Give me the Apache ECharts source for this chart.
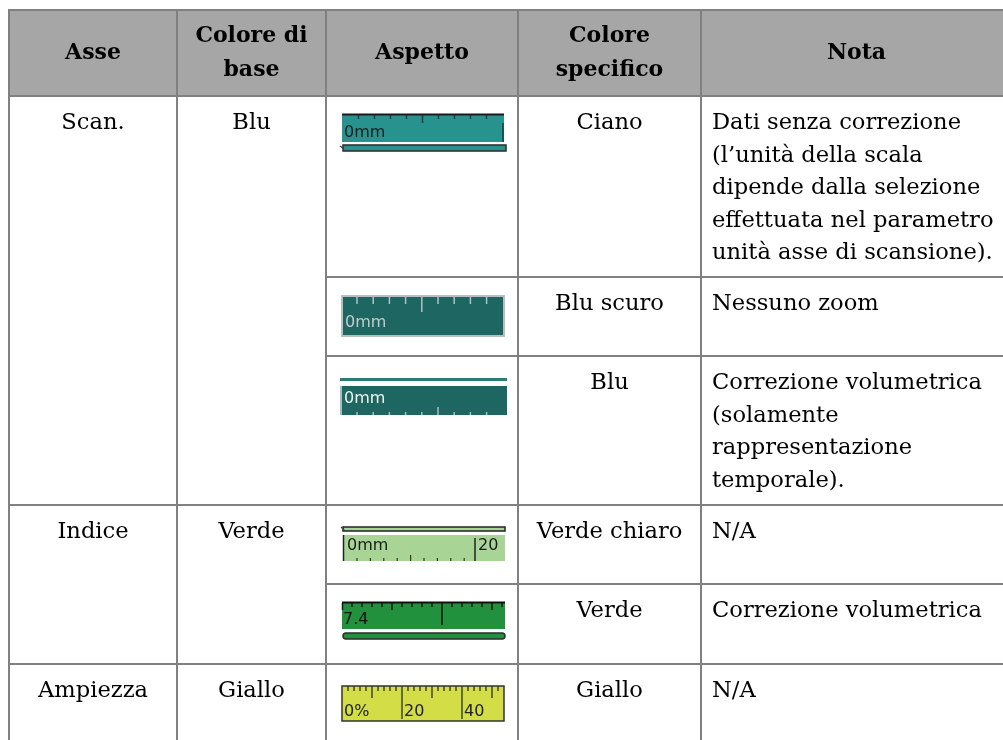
<!DOCTYPE html>
<html><head><meta charset="utf-8">
<script src="https://cdn.jsdelivr.net/npm/echarts@6/dist/echarts.min.js"></script>
<style>html,body{margin:0;padding:0;background:#fff}#c{width:1003px;height:740px}</style>
</head><body><div id="c"></div>
<script>
// ---- table content ----
const headers = ['Asse', 'Colore di\nbase', 'Aspetto', 'Colore\nspecifico', 'Nota'];
const axisNames = ['Scan.', 'Indice', 'Ampiezza'];
const baseColors = ['Blu', 'Verde', 'Giallo'];
const axisRowSpans = [3, 2, 1];
const specificColors = ['Ciano', 'Blu scuro', 'Blu', 'Verde chiaro', 'Verde', 'Giallo'];
const notes = [
  'Dati senza correzione\n(l\u2019unit\u00e0 della scala\ndipende dalla selezione\neffettuata nel parametro\nunit\u00e0 asse di scansione).',
  'Nessuno zoom',
  'Correzione volumetrica\n(solamente\nrappresentazione\ntemporale).',
  'N/A',
  'Correzione volumetrica',
  'N/A'
];
const rulerLabels = [['0mm'], ['0mm'], ['0mm'], ['0mm', '20'], ['7.4'], ['0%', '20', '40']];

// ---- layout (pixel grid edges) ----
const colEdges = [9, 177, 326, 518, 701, 1012];
const rowEdges = [10, 96, 277, 356, 505, 584, 664, 790];

const cells = [];
headers.forEach((h, i) => cells.push({c0: i, c1: i + 1, r0: 0, r1: 1, kind: 'head', text: h}));
let r = 1;
axisNames.forEach((a, i) => {
  cells.push({c0: 0, c1: 1, r0: r, r1: r + axisRowSpans[i], kind: 'center', text: a});
  cells.push({c0: 1, c1: 2, r0: r, r1: r + axisRowSpans[i], kind: 'center', text: baseColors[i]});
  r += axisRowSpans[i];
});
specificColors.forEach((s, i) => {
  cells.push({c0: 2, c1: 3, r0: i + 1, r1: i + 2, kind: 'ruler', idx: i});
  cells.push({c0: 3, c1: 4, r0: i + 1, r1: i + 2, kind: 'center', text: s});
  cells.push({c0: 4, c1: 5, r0: i + 1, r1: i + 2, kind: 'left', text: notes[i]});
});

const SERIF = '"DejaVu Serif", "Liberation Serif", serif';
const MONO = '"DejaVu Sans", sans-serif';

function line(x1, y1, x2, y2, stroke, w) {
  return {type: 'line', shape: {x1, y1, x2, y2}, style: {stroke, lineWidth: w || 1}};
}
function rect(x, y, width, height, fill, stroke, w, rr) {
  return {type: 'rect', shape: {x, y, width, height, r: rr || 0}, style: {fill, stroke: stroke || null, lineWidth: w || 0}};
}
function txt(t, x, y, fill) {
  return {type: 'text', style: {text: t, x, y, fill, font: '16px ' + MONO, align: 'left', verticalAlign: 'middle'}};
}

function ruler(i, X, Y) {
  const L = X + 16, W = 162;
  const labs = rulerLabels[i];
  const ch = [];
  if (i === 0) {
    const fill = '#28938e', dk = '#1c3a38';
    ch.push(rect(L, Y + 18, W, 28, fill));
    ch.push(line(L, Y + 18.5, L + W, Y + 18.5, '#1a1a1a', 2));
    for (let k = 1; k <= 9; k++) {
      const x = L + 16 * k + 0.5;
      ch.push(line(x, Y + 19, x, Y + 19 + (k === 5 ? 8 : 4), dk, 1.5));
    }
    ch.push(line(L + W - 1, Y + 27, L + W - 1, Y + 46, dk, 1.5));
    ch.push(txt(labs[0], L + 2, Y + 37, '#14201f'));
    ch.push(rect(L + 1, Y + 49, W + 1, 6, fill, '#2a2a2a', 1.5));
    ch.push(line(L - 2, Y + 50, L + 2, Y + 53, '#444', 1.5));
  } else if (i === 1) {
    const fill = '#1e6662', lt = '#b6bfbf';
    ch.push(rect(L, Y + 19, W, 40, fill, lt, 2));
    for (let k = 0; k <= 8; k++) {
      const x = L + 15 + 16.2 * k;
      ch.push(line(x, Y + 20, x, Y + 20 + (k === 4 ? 15 : 7), lt, 1.5));
    }
    ch.push(txt(labs[0], L + 3, Y + 46, '#c3cccc'));
  } else if (i === 2) {
    const fill = '#1e6662', lt = '#a9bfbd';
    ch.push(rect(L - 2, Y + 22, W + 5, 3, '#2b7c75'));
    ch.push(rect(L - 2, Y + 30, W + 5, 29, fill));
    ch.push(line(L - 1, Y + 30, L - 1, Y + 59, '#cfe0de', 1.5));
    for (let k = 0; k <= 8; k++) {
      const x = L + 15 + 16.2 * k;
      ch.push(line(x, Y + 59, x, Y + 59 - (k === 5 ? 8 : 3), lt, 1.5));
    }
    ch.push(txt(labs[0], L + 2, Y + 43, '#eef5f5'));
  } else if (i === 3) {
    const fill = '#a8d596', dk = '#333';
    ch.push(rect(L + 1, Y + 22, W, 4, fill, '#222', 1.5));
    ch.push(line(L - 1, Y + 22, L + 3, Y + 26, '#444', 1.2));
    ch.push(rect(L + 1, Y + 30, W, 26, fill));
    ch.push(line(L + 1.5, Y + 30, L + 1.5, Y + 56, '#222', 1.5));
    for (let k = 0; k <= 8; k++) {
      const x = L + 15 + 13.4 * k;
      ch.push(line(x, Y + 56, x, Y + 56 - (k === 4 ? 6 : 3), dk, 1.2));
    }
    const xm = L + 133;
    ch.push(line(xm, Y + 33, xm, Y + 56, '#222', 1.5));
    ch.push(txt(labs[0], L + 5, Y + 41, '#1a1a1a'));
    ch.push(txt(labs[1], xm + 3, Y + 41, '#1a1a1a'));
  } else if (i === 4) {
    const fill = '#22913e', dk = '#141414';
    ch.push(rect(L, Y + 18, W + 1, 27, fill));
    ch.push(line(L, Y + 18.5, L + W + 1, Y + 18.5, '#111', 2));
    for (let k = 1; k <= 16; k++) {
      const x = L + 10 * k;
      const len = k === 10 ? 22 : (k % 5 === 0 ? 7 : 4);
      ch.push(line(x, Y + 19, x, Y + 19 + len, dk, 1.5));
    }
    ch.push(line(L + 0.5, Y + 19, L + 0.5, Y + 26, dk, 1.5));
    ch.push(txt(labs[0], L + 1, Y + 36, '#111'));
    ch.push(rect(L + 1, Y + 49, W, 6, fill, '#2d2d2d', 1.5, 3));
  } else if (i === 5) {
    const fill = '#d3dd46', dk = '#2e2e2e';
    ch.push(rect(L, Y + 22, W, 35, fill, '#333', 1.5));
    for (let k = 1; k * 6 < W; k++) {
      const x = L + 6 * k;
      const len = k % 10 === 0 ? 33 : (k % 5 === 0 ? 12 : 5);
      ch.push(line(x, Y + 22, x, Y + 22 + len, dk, 1.3));
    }
    labs.forEach((t, j) => ch.push(txt(t, L + 2 + 60 * j, Y + 48, '#222')));
  }
  return ch;
}

function renderItem(params, api) {
  const c = cells[params.dataIndex];
  const p0 = api.coord([api.value(0), api.value(2)]);
  const p1 = api.coord([api.value(1), api.value(3)]);
  const x = p0[0], y = p0[1], w = p1[0] - p0[0], h = p1[1] - p0[1];
  const children = [rect(x, y, w, h, c.kind === 'head' ? '#a6a6a6' : '#ffffff', '#808080', 2)];
  if (c.kind === 'head') {
    children.push({type: 'text', style: {text: c.text, x: x + w / 2, y: y + h / 2, align: 'center', verticalAlign: 'middle', font: 'bold 22px ' + SERIF, lineHeight: 34, fill: '#000'}});
  } else if (c.kind === 'center' || c.kind === 'left') {
    const left = c.kind === 'left';
    children.push({type: 'text', style: {text: c.text, x: left ? x + 11 : x + w / 2, y: y + 11, align: left ? 'left' : 'center', verticalAlign: 'top', font: '22.6px ' + SERIF, lineHeight: 32.5, fill: '#000'}});
  } else if (c.kind === 'ruler') {
    children.push.apply(children, ruler(c.idx, x, y));
  }
  return {type: 'group', children};
}

const chart = echarts.init(document.getElementById('c'));
chart.setOption({
  animation: false,
  grid: {left: 0, right: 0, top: 0, bottom: 0},
  xAxis: {type: 'value', min: 0, max: 1003, show: false},
  yAxis: {type: 'value', min: 0, max: 740, inverse: true, show: false},
  series: [{
    type: 'custom',
    renderItem,
    clip: false,
    encode: {x: [0, 1], y: [2, 3]},
    data: cells.map(c => [colEdges[c.c0], colEdges[c.c1], rowEdges[c.r0], rowEdges[c.r1]])
  }]
});
</script>
</body></html>
